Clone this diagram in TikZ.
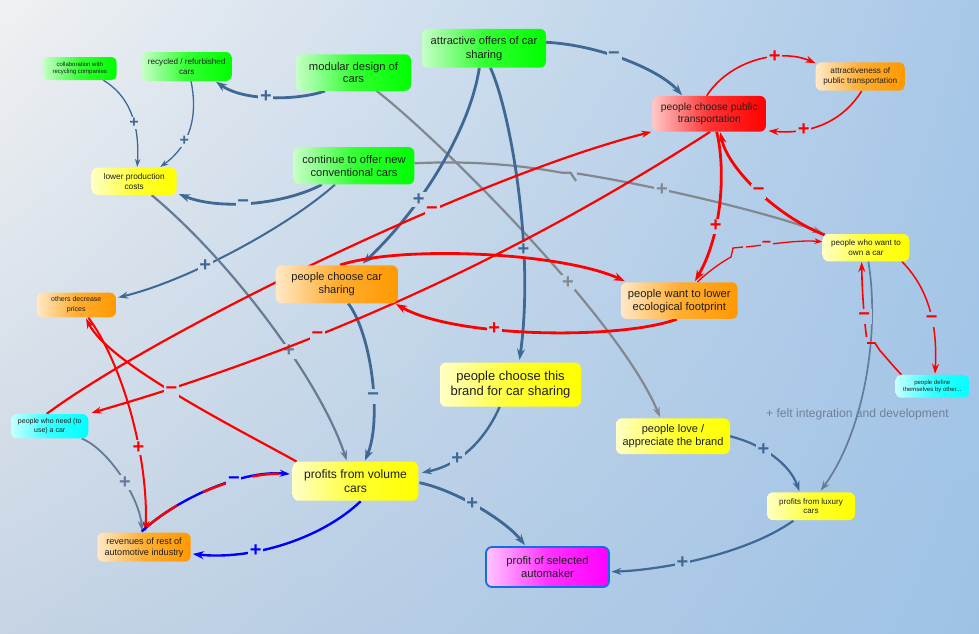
\documentclass[tikz,border=0pt]{standalone}
\usepackage{fontspec}
\setmainfont{Liberation Sans}
\usetikzlibrary{arrows.meta,calc,shadings}
\pgfdeclarelayer{back}\pgfdeclarelayer{edges}
\pgfsetlayers{back,edges,main}
\definecolor{bgTL}{RGB}{240,241,242}
\definecolor{bgTR}{RGB}{168,200,232}
\definecolor{bgBL}{RGB}{198,212,228}
\definecolor{bgBR}{RGB}{158,194,230}
\definecolor{cgreen}{RGB}{0,255,0}
\definecolor{cyellow}{RGB}{255,255,0}
\definecolor{corange}{RGB}{255,153,0}
\definecolor{cred}{RGB}{255,0,0}
\definecolor{ccyan}{RGB}{0,255,255}
\definecolor{cmag}{RGB}{255,0,255}
\definecolor{cborder}{RGB}{20,110,225}
\definecolor{ered}{RGB}{255,0,0}
\definecolor{ebl}{RGB}{0,0,255}
\definecolor{steel}{RGB}{63,104,148}
\definecolor{steelg}{RGB}{100,124,150}
\definecolor{grayl}{RGB}{130,136,144}
\definecolor{feltc}{RGB}{112,128,150}
\colorlet{lb}{bgTL}
\newcommand\fs[2]{\fontsize{#1}{#2}\selectfont}
\newcommand\bgat[2]{\pgfmathsetmacro\bgu{#1/9.79}\pgfmathsetmacro\bgv{#2/6.33}%
  \colorlet{bgtp}{bgTR!\bgu!bgTL}\colorlet{bgbt}{bgBR!\bgu!bgBL}\colorlet{lb}{bgbt!\bgv!bgtp}}
\tikzset{
  box/.style={rounded corners=6pt, inner sep=0pt, align=center, text=black!88},
  fillc/.style={left color=#1!22!white, right color=#1, middle color=#1!80!white},
  lab/.style={fill=lb, inner sep=0pt, minimum size=15pt, font=\fs{20}{20}\bfseries},
  labs/.style={fill=lb, inner sep=0pt, minimum size=12pt, font=\fs{16}{16}\bfseries},
  ethin/.style={line width=1.3pt, -{Stealth[length=8pt,width=5.5pt]}},
  emed/.style={line width=2pt, -{Stealth[length=10pt,width=7pt]}},
  ethick/.style={line width=2.8pt, -{Stealth[length=11pt,width=8pt]}}
}
\begin{document}
\begin{tikzpicture}[x=1pt,y=-1pt]
\useasboundingbox (0,0) rectangle (979,633);
\begin{pgfonlayer}{back}
\shade[upper left=bgTL, upper right=bgTR, lower left=bgBL, lower right=bgBR] (0,0) rectangle (979,633);
\end{pgfonlayer}

\node[box, fillc=cgreen, rounded corners=5pt, minimum width=74pt, minimum height=23pt, font=\fs{6}{7.4}] (collab) at (79.7,68.5) {collaboration with\\recycling companies};
\node[box, fillc=cgreen, minimum width=90pt, minimum height=29pt, font=\fs{8.1}{10}] (recycled) at (186.7,66.5) {recycled / refurbished\\cars};
\node[box, fillc=cgreen, minimum width=115pt, minimum height=36.5pt, font=\fs{11.2}{12.2}] (modular) at (353.5,72.5) {modular design of\\cars};
\node[box, fillc=cgreen, minimum width=124pt, minimum height=38.7pt, font=\fs{11.1}{13.7}] (attractive) at (484,48.3) {attractive offers of car\\sharing};
\node[box, fillc=cred, minimum width=113.3pt, minimum height=35.7pt, font=\fs{10.3}{11.6}] (pubtrans) at (709.3,113.8) {people choose public\\transportation};
\node[box, fillc=corange, minimum width=89.3pt, minimum height=28.4pt, font=\fs{8.2}{10}] (attrpub) at (860.3,76.5) {attractiveness of\\public transportation};
\node[box, fillc=cyellow, minimum width=85pt, minimum height=27.3pt, font=\fs{8.3}{10}] (lowerprod) at (134.2,181.3) {lower production\\costs};
\node[box, fillc=cgreen, minimum width=120.6pt, minimum height=37.3pt, font=\fs{11.15}{13}] (continue) at (354,165.7) {continue to offer new\\conventional cars};
\node[box, fillc=corange, minimum width=122pt, minimum height=38pt, font=\fs{11.1}{13}] (choosecs) at (336.7,284.3) {people choose car\\sharing};
\node[box, fillc=corange, minimum width=79.3pt, minimum height=24.6pt, font=\fs{7}{10}] (others) at (76.3,305) {others decrease\\prices};
\node[box, fillc=corange, minimum width=116.7pt, minimum height=36.7pt, font=\fs{11.2}{13}] (lowereco) at (679.3,300.6) {people want to lower\\ecological footprint};
\node[box, fillc=cyellow, minimum width=86.6pt, minimum height=27.3pt, font=\fs{8.1}{9.7}] (wantown) at (866,247.7) {people who want to\\own a car};
\node[box, fillc=ccyan, rounded corners=5pt, minimum width=73.3pt, minimum height=22.7pt, font=\fs{6}{7.7}] (define) at (932.3,386.3) {people define\\themselves by other...};
\node[box, fillc=cyellow, minimum width=141pt, minimum height=44.2pt, font=\fs{13}{14.3}] (brandcs) at (510.5,384.6) {people choose this\\brand for car sharing};
\node[box, fillc=ccyan, minimum width=77.3pt, minimum height=24.3pt, font=\fs{7}{8.7}] (needcar) at (49.7,426.2) {people who need (to\\use) a car};
\node[box, fillc=cyellow, minimum width=114pt, minimum height=35.7pt, font=\fs{11}{12.7}] (love) at (673,436.2) {people love /\\appreciate the brand};
\node[box, fillc=cyellow, minimum width=125.6pt, minimum height=39pt, font=\fs{12.1}{13.7}] (volume) at (355.5,481.2) {profits from volume\\cars};
\node[box, fillc=corange, minimum width=93.4pt, minimum height=29pt, font=\fs{9.1}{11}] (revenue) at (144,547.2) {revenues of rest of\\automotive industry};
\node[box, fillc=cyellow, minimum width=88pt, minimum height=27.7pt, font=\fs{8}{9.7}] (luxury) at (811,506.2) {profits from luxury\\cars};
\node[box, fillc=cmag, draw=cborder, line width=1.8pt, minimum width=123pt, minimum height=40pt, font=\fs{11.2}{13.7}] (profit) at (547.5,567) {profit of selected\\automaker};
\node[anchor=west, inner sep=0pt, font=\fs{12.1}{14}, text=feltc] (felt) at (766,414) {+ felt integration and development};

\begin{pgfonlayer}{edges}
% blue-grey connectors
\bgat{135}{123}
\draw[steel, ethin] ($(collab.south)+(23.6,0)$) .. controls (128,95) and (140,122) .. ($(lowerprod.north)+(3,-0.5)$) node[labs,pos=.62]{+};
\bgat{184}{141}
\draw[steel, ethin] ($(recycled.south)+(4.3,0)$) .. controls (198,115) and (191,145) .. ($(lowerprod.north)+(26,-0.5)$) node[labs,pos=.65]{+};
\bgat{266}{98}
\draw[steel, ethick] ($(modular.south)+(-28.5,0)$) .. controls (300,100) and (245,102) .. ($(recycled.south)+(29.3,0.5)$) node[lab,pos=.55]{+};
\bgat{241}{203}
\draw[steel, ethick] ($(continue.south)+(-32.3,0)$) .. controls (290,202) and (225,212) .. ($(lowerprod.south east)+(2,-1)$) node[lab,pos=.58]{−};
\bgat{204}{268}
\draw[steel, emed] ($(continue.south)+(-19,0)$) .. controls (290,225) and (190,280) .. ($(others.north east)+(2,5)$) node[lab,pos=.63]{+};
\bgat{663}{189}
\draw[grayl, emed, line width=2.2pt] ($(continue.east)+(0,-2.4)$) .. controls (480,160) and (530,167) .. (562,172.7) -- (570.5,172.7) -- (576,181) (577,173.5) .. controls (640,183) and (760,210) .. ($(wantown.north west)+(0,-1)$) node[lab,pos=.36]{+};
\bgat{570}{282}
\draw[grayl, emed, line width=2.2pt] ($(modular.south)+(23.2,0)$) .. controls (440,140) and (620,320) .. ($(love.north)+(-13,-1)$) node[lab,pos=.62]{+};
\bgat{612}{57}
\draw[steel, ethick] ($(attractive.east)+(0,-6)$) .. controls (600,45) and (660,70) .. ($(pubtrans.north)+(-27.3,-0.5)$) node[lab,pos=.42]{−};
\bgat{420}{200}
\draw[steel, ethick] ($(attractive.south)+(-4.7,0)$) .. controls (470,130) and (420,210) .. ($(choosecs.north)+(26,-1.5)$) node[lab,pos=.65]{+};
\bgat{525}{250}
\draw[steel, ethick] ($(attractive.south)+(6.4,0)$) .. controls (510,110) and (535,250) .. ($(brandcs.north)+(9,-2.5)$) node[lab,pos=.68]{+};
\bgat{289}{350}
\draw[steelg, emed, line width=2.2pt] ($(lowerprod.south)+(17.5,0)$) .. controls (230,260) and (320,380) .. ($(volume.north)+(-8.8,-1)$) node[lab,pos=.6]{+};
\bgat{374}{397}
\draw[steel, ethick] ($(choosecs.south)+(11.6,0)$) .. controls (372,335) and (382,420) .. ($(volume.north)+(9.5,-1)$) node[lab,pos=.6]{−};
\bgat{456}{458}
\draw[steel, emed, line width=2.4pt] ($(brandcs.south)+(-10.9,0)$) .. controls (485,440) and (460,465) .. ($(volume.east)+(3.4,-8.5)$) node[lab,pos=.65]{+};
\bgat{472}{503}
\draw[steel, ethick] ($(volume.east)+(1,1.5)$) .. controls (455,490) and (505,520) .. ($(profit.north)+(-22.5,-1)$) node[lab,pos=.45]{+};
\bgat{684}{566}
\draw[steel, emed, line width=2.2pt] ($(luxury.south)+(-17.7,0.5)$) .. controls (745,555) and (660,570) .. ($(profit.east)+(1.5,4.7)$) node[lab,pos=.6]{+};
\bgat{761}{452}
\draw[steel, emed, line width=2.2pt] ($(love.east)+(-1,-0.2)$) .. controls (765,445) and (790,465) .. ($(luxury.north)+(-11.7,-1)$) node[lab,pos=.36]{+};
\draw[steelg, emed, line width=1.7pt] ($(wantown.south)+(2.3,0)$) .. controls (880,330) and (865,430) .. ($(luxury.north)+(9.7,-1.5)$);
\bgat{125}{481}
\draw[steelg, emed, line width=1.8pt] ($(needcar.south)+(32,0)$) .. controls (110,450) and (140,500) .. ($(revenue.north)+(-2,-1.5)$) node[lab,pos=.55]{+};

% red connectors
\bgat{435}{210}
\draw[ered, emed, line width=2.2pt] ($(needcar.north)+(-3,0)$) .. controls (160,330) and (480,175) .. ($(pubtrans.south west)+(-1,0)$) node[lab,pos=.65]{−};
\bgat{315}{334}
\draw[ered, emed, line width=2.2pt] ($(pubtrans.south)+(0.7,0)$) .. controls (517.6,256.3) and (311.6,349.7) .. ($(needcar.north east)+(3,-1)$) node[lab,pos=.65]{−};
\bgat{718}{227}
\draw[ered, ethick] ($(pubtrans.south)+(7.4,0)$) .. controls (726,170) and (722,235) .. ($(lowereco.north)+(15.7,-1)$) node[lab,pos=.64]{+};
\bgat{758}{190}
\draw[ered, ethick] ($(wantown.north west)+(2,1)$) .. controls (780,218) and (728,170) .. ($(pubtrans.south)+(11,0.5)$) node[lab,pos=.5]{−};
\bgat{775}{57}
\draw[ered, emed, line width=1.6pt] ($(pubtrans.north)+(-2.6,0)$) .. controls (730,60) and (780,48) .. ($(attrpub.north west)+(0,1)$) node[lab,pos=.65]{+};
\bgat{803}{132}
\draw[ered, emed, line width=1.6pt] ($(attrpub.south)+(1.4,0)$) .. controls (845,118) and (815,135) .. ($(pubtrans.south east)+(2.4,-1)$) node[lab,pos=.72]{+};
\bgat{766}{245}
\draw[ered, ethin] ($(lowereco.north)+(18,0)$) .. controls (710,270) and (722,262) .. (731,257) -- (733,248) -- (743,247) (746,247) .. controls (780,243) and (800,240) .. ($(wantown.west)+(0,-6)$) node[labs,pos=.22]{−};
\bgat{934}{320}
\draw[ered, emed, line width=1.5pt] ($(wantown.south east)+(-7.6,0)$) .. controls (925,285) and (938,318) .. ($(define.north)+(2.7,-1)$) node[lab,pos=.62]{−};
\bgat{865}{315}
\draw[ered, emed, line width=1.6pt] ($(define.north west)+(6,0)$) .. controls (893,366) and (885,356) .. (880,350.7) -- (875,343) -- (867,343) (866.5,337) .. controls (864,318) and (862,290) .. ($(wantown.south)+(-4.3,0.5)$) node[lab,pos=.32]{−};
\draw[ered, ethick] ($(choosecs.north)+(3.3,0)$) .. controls (400,245) and (560,252) .. ($(lowereco.north west)+(4,-1)$);
\bgat{491}{329}
\draw[ered, ethick] ($(lowereco.south)+(-2.5,0)$) .. controls (620,340) and (455,338) .. ($(choosecs.south east)+(-2,0.5)$) node[lab,pos=.63]{+};
\bgat{172}{393}
\draw[ered, emed, line width=2.2pt] ($(volume.north west)+(4,0)$) .. controls (240,430) and (110,365) .. ($(others.south)+(9.7,1)$) node[lab,pos=.53]{−};
\bgat{142}{447}
\draw[ered, emed, line width=2pt] ($(others.south)+(12,0)$) .. controls (120,360) and (148,450) .. ($(revenue.north)+(1.7,-1.5)$) node[lab,pos=.66]{+};

% blue / red-blue connectors
\draw[ebl, emed, line width=2.4pt] ($(revenue.north)+(-2.3,-1)$) .. controls (175,500) and (240,470) .. ($(volume.west)+(-2.7,-7.2)$);
\draw[ered, line width=2.4pt, dash pattern=on 0pt off 7pt on 37pt off 29pt on 28pt off 24pt on 27pt off 300pt] ($(revenue.north)+(-2.3,-1)$) .. controls (175,500) and (240,470) .. ($(volume.west)+(-2.7,-7.2)$);
\bgat{233}{478}
\path ($(revenue.north)+(-2.3,-1)$) .. controls (175,500) and (240,470) .. ($(volume.west)+(-2.7,-7.2)$) node[lab,pos=.65,text=ebl]{−};
\bgat{256}{552}
\draw[ebl, ethick, line width=2.4pt] ($(volume.south)+(5.2,0.3)$) .. controls (320,540) and (250,560) .. ($(revenue.east)+(2,6.8)$) node[lab,pos=.65]{+};
\end{pgfonlayer}
\end{tikzpicture}
\end{document}
